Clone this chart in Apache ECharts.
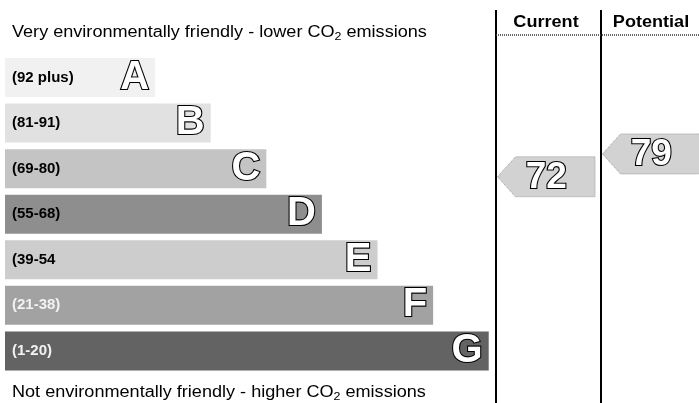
<!DOCTYPE html>
<html>
<head>
<meta charset="utf-8">
<script src="https://cdn.jsdelivr.net/npm/echarts@6/dist/echarts.min.js"></script>
<style>
html,body{margin:0;padding:0;background:#fff;}
#main{width:699px;height:403px;}
</style>
</head>
<body>
<div id="main"></div>
<script>
// ---- data ----
const bandLetters = ['A', 'B', 'C', 'D', 'E', 'F', 'G'];
const bandRangeLabels = ['(92 plus)', '(81-91)', '(69-80)', '(55-68)', '(39-54', '(21-38)', '(1-20)'];
const bandLower = [92, 81, 69, 55, 39, 21, 1];
const bandUpper = [100, 91, 80, 68, 54, 38, 20];
const barLengths = [27, 37, 47, 57, 67, 77, 87];
const ratingColumns = ['Current', 'Potential'];
const ratingScores = [72, 79];

// ---- styles ----
const barPalette = ['#f1f1f1', '#e1e1e1', '#c4c4c4', '#8e8e8e', '#cdcdcd', '#a2a2a2', '#636363'];
const rangeLabelColors = ['#000', '#000', '#000', '#000', '#000', '#f2f2f2', '#f2f2f2'];
const FONT = 'Liberation Sans, Arial, sans-serif';
const SX = 1.13; // horizontal stretch of the source picture's text

const chart = echarts.init(document.getElementById('main'), null, {renderer: 'canvas'});

const GRID_TOP = 54.7, GRID_H = 319;
const COL_W = 105;

function arrowItem(params, api) {
  const col = api.value(0), s = api.value(1);
  let b = 0;
  for (let i = 0; i < bandLower.length; i++) {
    if (s >= bandLower[i] && s <= bandUpper[i]) { b = i; break; }
  }
  const c0 = api.coord([col, b]);
  const c1 = api.coord([col + 1, b]);
  const bandH = api.size([0, 1])[1];
  const barH = bandH * 0.86;
  const bottom = c0[1] + barH / 2;
  const frac = (s - bandLower[b] + 0.5) / (bandUpper[b] - bandLower[b] + 1);
  const y = bottom - frac * barH;
  const left = c0[0] + 1.5, right = c1[0] - 6, tip = 18, hh = 20;
  return {
    type: 'group',
    children: [
      {type: 'polygon', shape: {points: [[left, y], [left + tip, y - hh], [right, y - hh], [right, y + hh], [left + tip, y + hh]]},
        style: {fill: '#d2d2d2', stroke: '#9a9a9a', lineWidth: 1, lineDash: [1, 1]}},
      {type: 'text', x: (left + right) / 2, y: y + 1,
        style: {text: String(s), align: 'center', verticalAlign: 'middle', font: 'bold 37px ' + FONT,
          fill: '#fff', stroke: '#000', lineWidth: 2.2}}
    ]
  };
}

const subRich = {
  a: {fontSize: 16, fontFamily: FONT, lineHeight: 19, fill: '#000'},
  s: {fontSize: 11, fontFamily: FONT, lineHeight: 10, verticalAlign: 'bottom', fill: '#000'}
};

const option = {
  animation: false,
  grid: [
    {left: 5, top: GRID_TOP, width: 556, height: GRID_H},
    {left: 496, top: GRID_TOP, right: 0, height: GRID_H}
  ],
  xAxis: [
    {gridIndex: 0, type: 'value', min: 0, max: 100, show: false},
    {gridIndex: 1, type: 'value', min: 0, max: 203 / COL_W, show: false}
  ],
  yAxis: [
    {gridIndex: 0, type: 'category', inverse: true, data: bandLetters, show: false},
    {gridIndex: 1, type: 'category', inverse: true, data: bandLetters, show: false}
  ],
  series: [
    {
      type: 'bar', xAxisIndex: 0, yAxisIndex: 0, barWidth: 39,
      data: barLengths.map((v, i) => ({value: v, itemStyle: {color: barPalette[i]}})),
      label: {show: true, position: 'insideRight', distance: 6, formatter: p => bandLetters[p.dataIndex],
        fontFamily: FONT, fontWeight: 'bold', fontSize: 40, color: '#fff', textBorderColor: '#000', textBorderWidth: 2.2}
    },
    {
      type: 'bar', xAxisIndex: 0, yAxisIndex: 0, barWidth: 39, barGap: '-100%',
      data: barLengths.map((v, i) => ({value: v, itemStyle: {color: 'transparent'}, label: {color: rangeLabelColors[i]}})),
      label: {show: true, position: 'insideLeft', distance: 7,
        formatter: p => bandRangeLabels[p.dataIndex],
        fontFamily: FONT, fontWeight: 'bold', fontSize: 15}
    },
    {
      type: 'custom', xAxisIndex: 1, yAxisIndex: 1,
      data: ratingScores.map((s, i) => [i, s]),
      renderItem: arrowItem
    }
  ],
  graphic: [
    {type: 'text', x: 12, y: 32.5, scaleX: SX,
      style: {text: '{a|Very environmentally friendly - lower CO}{s|2}{a| emissions}', verticalAlign: 'middle', rich: subRich}},
    {type: 'text', x: 12, y: 393, scaleX: SX,
      style: {text: '{a|Not environmentally friendly - higher CO}{s|2}{a| emissions}', verticalAlign: 'middle', rich: subRich}},
    {type: 'line', shape: {x1: 496, y1: 10, x2: 496, y2: 403}, style: {stroke: '#000', lineWidth: 2}},
    {type: 'line', shape: {x1: 601, y1: 10, x2: 601, y2: 403}, style: {stroke: '#000', lineWidth: 2}},
    {type: 'line', shape: {x1: 496, y1: 35, x2: 699, y2: 35}, style: {stroke: '#333', lineWidth: 1.5, lineDash: [1, 1]}},
    {type: 'text', x: 546, y: 23, scaleX: SX, style: {text: ratingColumns[0], align: 'center', verticalAlign: 'middle', font: 'bold 16px ' + FONT, fill: '#000'}},
    {type: 'text', x: 651, y: 23, scaleX: SX, style: {text: ratingColumns[1], align: 'center', verticalAlign: 'middle', font: 'bold 16px ' + FONT, fill: '#000'}}
  ]
};
chart.setOption(option);
</script>
</body>
</html>
